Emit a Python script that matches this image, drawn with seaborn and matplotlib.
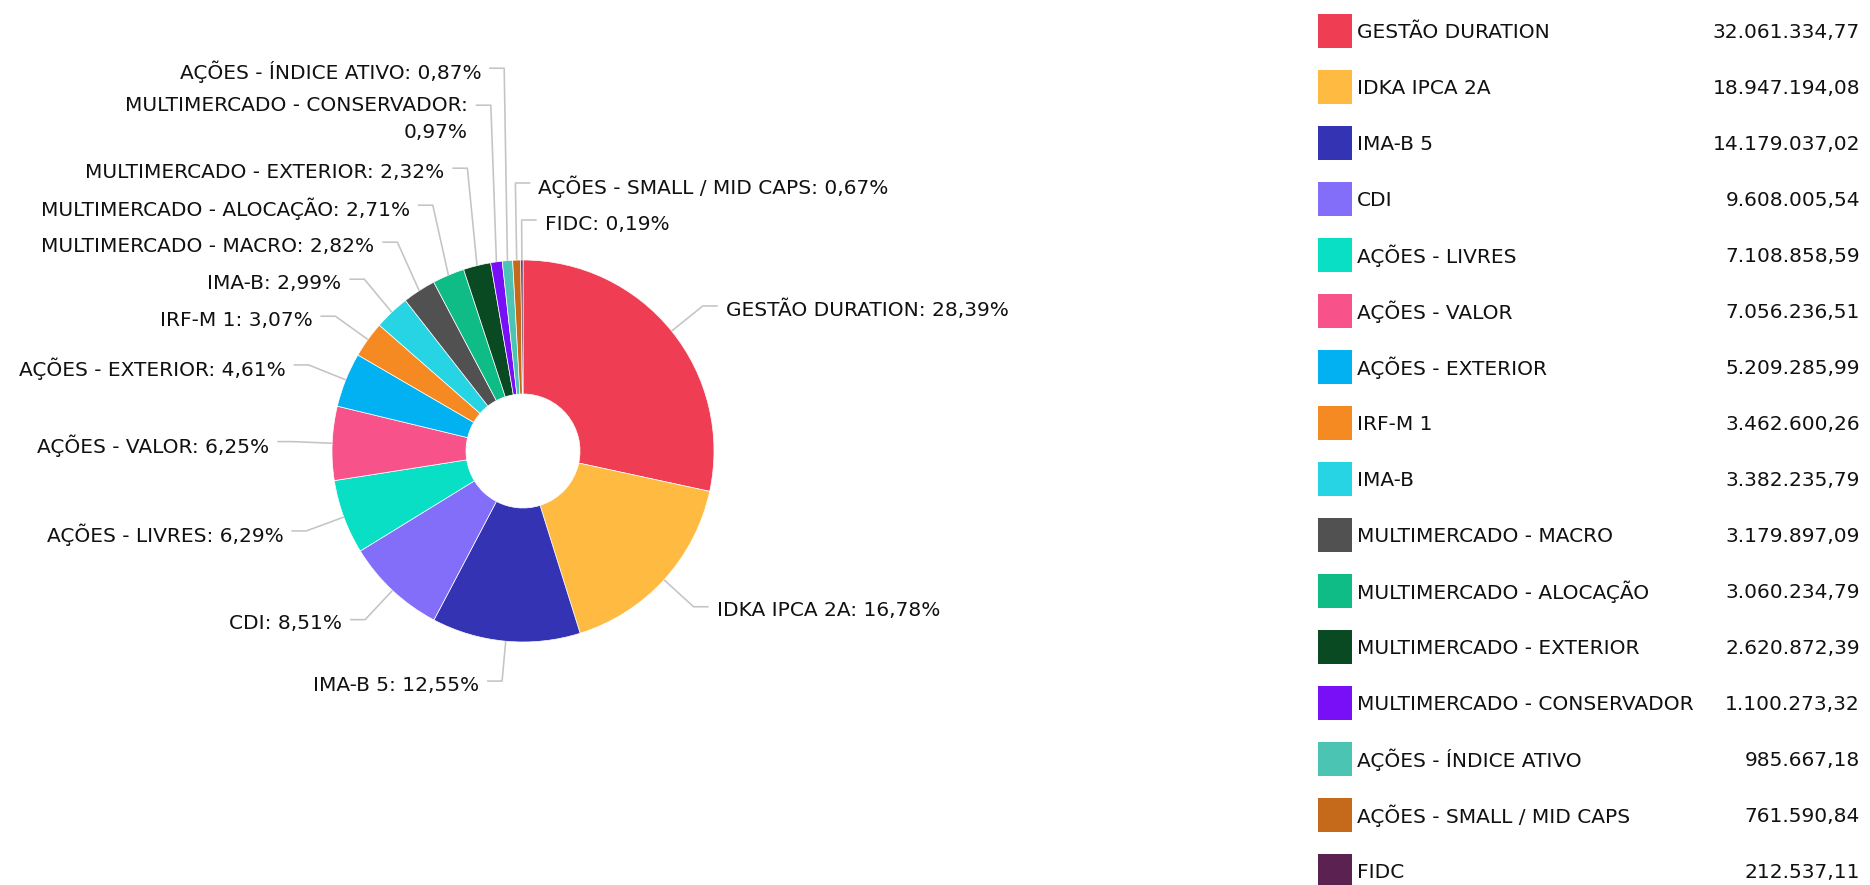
import numpy as np
import matplotlib
matplotlib.use('Agg')
import matplotlib.pyplot as plt
import seaborn as sns
from matplotlib.font_manager import FontProperties
from matplotlib.patches import Rectangle

# Dados da carteira (valores em R$)
categorias = [
    'GESTÃO DURATION', 'IDKA IPCA 2A', 'IMA-B 5', 'CDI', 'AÇÕES - LIVRES',
    'AÇÕES - VALOR', 'AÇÕES - EXTERIOR', 'IRF-M 1', 'IMA-B',
    'MULTIMERCADO - MACRO', 'MULTIMERCADO - ALOCAÇÃO', 'MULTIMERCADO - EXTERIOR',
    'MULTIMERCADO - CONSERVADOR', 'AÇÕES - ÍNDICE ATIVO',
    'AÇÕES - SMALL / MID CAPS', 'FIDC',
]
valores = [
    32061334.77, 18947194.08, 14179037.02, 9608005.54, 7108858.59,
    7056236.51, 5209285.99, 3462600.26, 3382235.79,
    3179897.09, 3060234.79, 2620872.39,
    1100273.32, 985667.18,
    761590.84, 212537.11,
]
cores = [
    '#EF3E53', '#FFBA42', '#3333B3', '#836EFA', '#08DFC4',
    '#F7538A', '#02B1F1', '#F58A22', '#26D4E3',
    '#515151', '#0FBC86', '#0A4A22',
    '#780FF7', '#4CC4B4', '#C5691B', '#5B2150',
]

sns.set_theme(style='white')
plt.rcParams['font.family'] = ['DejaVu Sans']


def fmt_br(v, casas=2):
    s = f"{v:,.{casas}f}"
    return s.replace(',', 'X').replace('.', ',').replace('X', '.')


W, H = 1870, 885
fig = plt.figure(figsize=(W / 100, H / 100), dpi=100)
ax = fig.add_axes([0, 0, 1, 1])

# geometria do donut (pixels, eixo y invertido)
cx, cy, R, r_in = 523, 451, 191, 57
paleta = sns.color_palette(cores)
ax.pie(valores, colors=paleta, startangle=-90, counterclock=True,
       radius=R, center=(cx, cy),
       wedgeprops=dict(width=R - r_in, edgecolor='white', linewidth=0.5))
ax.set_aspect('auto')
ax.set_xlim(0, W)
ax.set_ylim(H, 0)
ax.axis('off')

total = sum(valores)
pct = [v / total * 100 for v in valores]
cum = np.cumsum([0] + pct)
meio = (cum[:-1] + cum[1:]) / 2 * 3.6  # graus, sentido horario a partir do topo

fonte = 14.5
renderer = fig.canvas.get_renderer()
fp = FontProperties(family='DejaVu Sans', size=fonte)


def largura(s):
    w, h, d = renderer.get_text_width_height_descent(s, fp, ismath=False)
    return w


h_rot, h_linha, tick, horiz, gap = 37, 26, 40, 15, 8
cor_linha = '#c4c4c4'
lw = 1.6 * 72 / 100

rotulos = []
for nome, p, ang in zip(categorias, pct, meio):
    a = np.radians(ang)
    sx, sy = np.sin(a), -np.cos(a)
    txt = f"{nome}: {fmt_br(p)}%"
    if largura(txt) > 390:
        txt = txt.replace(': ', ':\n')
    lado = 'dir' if sx > -0.05 else 'esq'
    chave = (ang if ang < 180 else ang - 360) if lado == 'dir' else -ang
    rotulos.append(dict(txt=txt, lado=lado, chave=chave,
                        p0=(cx + R * sx, cy + R * sy),
                        ex=cx + (R + tick) * sx, ey=cy + (R + tick) * sy,
                        n=txt.count('\n')))

# evita sobreposicao: de baixo para cima em cada lado
for lado in ['dir', 'esq']:
    grupo = sorted([r for r in rotulos if r['lado'] == lado],
                   key=lambda r: r['chave'], reverse=True)
    anterior = None
    for r in grupo:
        if anterior is not None:
            r['ey'] = min(r['ey'], anterior['ey'] - h_rot - r['n'] * h_linha)
        anterior = r

for r in rotulos:
    sinal = 1 if r['lado'] == 'dir' else -1
    x1 = r['ex'] + sinal * horiz
    ax.plot([r['p0'][0], r['ex'], x1], [r['p0'][1], r['ey'], r['ey']],
            color=cor_linha, lw=lw, solid_capstyle='butt', zorder=1)
    ax.text(x1 + sinal * gap, r['ey'] + 4 + r['n'] * h_linha / 2 - r['n'] * 3, r['txt'],
            ha='left' if sinal > 0 else 'right', va='center',
            multialignment='right' if sinal < 0 else 'left',
            linespacing=1.5, fontsize=fonte, color='#111111')

# legenda a direita
for i, (nome, v, c) in enumerate(zip(categorias, valores, paleta)):
    y = 31 + 56 * i
    ax.add_patch(Rectangle((1318, y - 17), 34, 34, facecolor=c, edgecolor='none'))
    ax.text(1357, y + 1, nome, ha='left', va='center', fontsize=fonte, color='#111111')
    ax.text(1860, y + 1, fmt_br(v), ha='right', va='center', fontsize=fonte, color='#111111')

fig.savefig('out.png', dpi=100, facecolor='white')
